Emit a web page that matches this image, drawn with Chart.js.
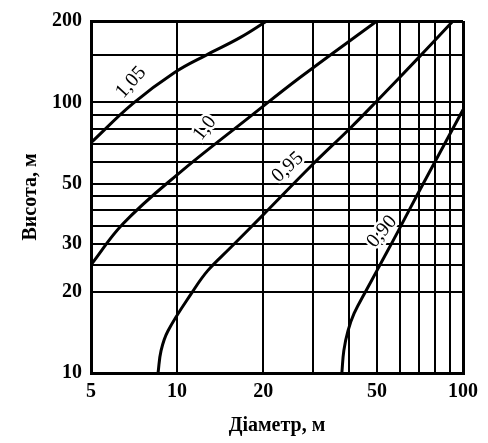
<!DOCTYPE html>
<html>
<head>
<meta charset="utf-8">
<script src="https://cdn.jsdelivr.net/npm/chart.js@4"></script>
<style>
  html, body { margin: 0; padding: 0; background: #fff; }
  #wrap { width: 488px; height: 443px; position: relative; }
</style>
</head>
<body>
<div id="wrap"><canvas id="chart"></canvas></div>
<script>
// curves: height (m) against diameter (m), one pair of arrays per curve
const diam105 = [5, 7.0, 9.8, 12.7, 16.6, 20.6];
const height105 = [71, 99, 129, 150, 173.6, 200];

const diam100 = [5, 6.47, 10, 18.0, 26.9, 50];
const height100 = [25.1, 35.6, 54, 88.6, 123.6, 200];

const diam095 = [8.58, 8.79, 9.29, 11.3, 12.8, 15.3, 19.8, 29.6, 40.3, 50, 70.6, 92.3];
const height095 = [10, 12.1, 14.3, 19.9, 23.9, 28.9, 38.0, 58.6, 80.3, 101.3, 148, 200];

const diam090 = [37.7, 38.3, 39.6, 41.6, 46.1, 50, 54.2, 59.2, 69.5, 83.0, 100];
const height090 = [10, 12.1, 14.3, 16.6, 20.4, 23.9, 28.0, 33.3, 46.0, 65.2, 94];

// curve labels and where they sit (data coords)
const curveLabels = ['1,05', '1,0', '0,95', '0,90'];
const labelDiam = [6.9, 12.5, 24.4, 52.1];
const labelHeight = [118.6, 80.3, 57.6, 33.3];
const labelAngle = [-48, -52, -43, -50];

// grid / ticks
const xGrid = [5, 10, 20, 30, 40, 50, 60, 70, 80, 90, 100];
const xTickLabels = [5, 10, 20, 50, 100];
const yGrid = [10, 20, 25, 30, 35, 40, 45, 50, 60, 70, 80, 90, 100, 150, 200];
const yTickLabels = [10, 20, 30, 50, 100, 200];

const FONT = "'Liberation Serif', 'DejaVu Serif', serif";

function toPoints(xs, ys) {
  return xs.map((x, i) => ({ x: x, y: ys[i] }));
}

function curve(xs, ys) {
  return {
    data: toPoints(xs, ys),
    borderColor: '#000',
    borderWidth: 3,
    pointRadius: 0,
    tension: 0.4,
    fill: false
  };
}

const curveLabelPlugin = {
  id: 'curveLabels',
  afterDatasetsDraw(chart) {
    const { ctx, scales: { x, y } } = chart;
    ctx.save();
    ctx.font = '20px ' + FONT;
    ctx.textAlign = 'center';
    ctx.textBaseline = 'middle';
    curveLabels.forEach((txt, i) => {
      const px = x.getPixelForValue(labelDiam[i]);
      const py = y.getPixelForValue(labelHeight[i]);
      ctx.save();
      ctx.translate(px, py);
      ctx.rotate(labelAngle[i] * Math.PI / 180);
      ctx.lineWidth = 5;
      ctx.strokeStyle = '#fff';
      ctx.strokeText(txt, 0, 0);
      ctx.fillStyle = '#000';
      ctx.fillText(txt, 0, 0);
      ctx.restore();
    });
    ctx.restore();
  }
};

new Chart(document.getElementById('chart'), {
  type: 'line',
  data: {
    datasets: [
      curve(diam105, height105),
      curve(diam100, height100),
      curve(diam095, height095),
      curve(diam090, height090)
    ]
  },
  options: {
    responsive: true,
    maintainAspectRatio: false,
    animation: false,
    layout: { padding: { top: 12, right: 25, left: 0, bottom: 0 } },
    plugins: { legend: { display: false }, tooltip: { enabled: false } },
    scales: {
      x: {
        type: 'logarithmic',
        min: 5,
        max: 100,
        afterBuildTicks: s => { s.ticks = xGrid.map(v => ({ value: v })); },
        afterFit: s => { s.height = 70; },
        grid: {
          color: '#000',
          lineWidth: c => (c.tick && (c.tick.value === 100 || c.tick.value === 5)) ? 3 : 2,
          drawTicks: false
        },
        border: { color: '#000', width: 3 },
        ticks: {
          color: '#000',
          padding: 7,
          autoSkip: false,
          maxRotation: 0,
          font: { family: FONT, size: 20, weight: 'bold' },
          callback: v => xTickLabels.includes(v) ? String(v) : ''
        },
        title: {
          display: true,
          text: 'Діаметр, м',
          color: '#000',
          font: { family: FONT, size: 20, weight: 'bold' },
          padding: { top: 0, bottom: 5 }
        }
      },
      y: {
        type: 'logarithmic',
        min: 10,
        max: 200,
        afterBuildTicks: s => { s.ticks = yGrid.map(v => ({ value: v })); },
        afterFit: s => { s.width = 91; },
        grid: {
          color: '#000',
          lineWidth: c => (c.tick && (c.tick.value === 200 || c.tick.value === 10)) ? 3 : 2,
          drawTicks: false
        },
        border: { color: '#000', width: 3 },
        ticks: {
          color: '#000',
          padding: 9,
          autoSkip: false,
          font: { family: FONT, size: 20, weight: 'bold' },
          callback: v => yTickLabels.includes(v) ? String(v) : ''
        },
        title: {
          display: true,
          text: 'Висота, м',
          color: '#000',
          font: { family: FONT, size: 20, weight: 'bold' },
          padding: { top: 19, bottom: 0 }
        }
      }
    }
  },
  plugins: [curveLabelPlugin]
});
</script>
</body>
</html>
